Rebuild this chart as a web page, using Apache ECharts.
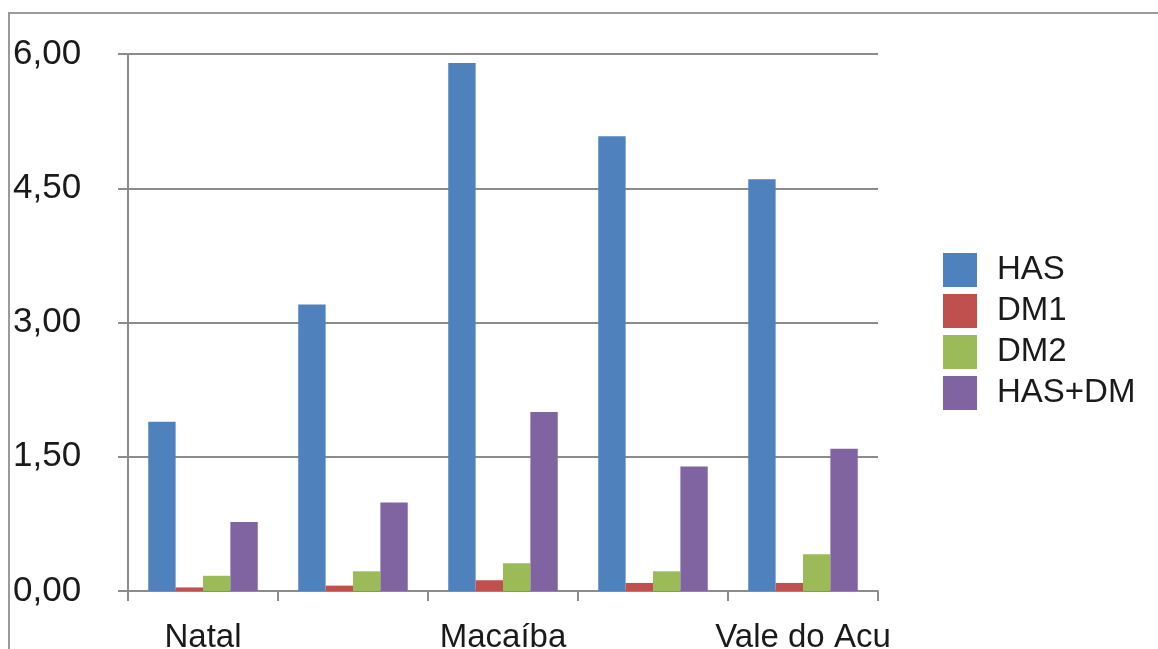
<!DOCTYPE html>
<html>
<head>
<meta charset="utf-8">
<script src="https://cdn.jsdelivr.net/npm/echarts@6/dist/echarts.min.js"></script>
<style>
html,body{margin:0;padding:0;background:#fff;}
#chart{width:1158px;height:649px;}
</style>
</head>
<body>
<div id="chart"></div>
<script>
const categories = ['Natal', 'Parnamirim', 'Macaíba', 'Mossoró', 'Vale do Acu'];
const seriesNames = ['HAS', 'DM1', 'DM2', 'HAS+DM'];
const hasValues = [1.89, 3.20, 5.90, 5.08, 4.60];
const dm1Values = [0.04, 0.06, 0.12, 0.09, 0.09];
const dm2Values = [0.17, 0.22, 0.31, 0.22, 0.41];
const hasDmValues = [0.77, 0.99, 2.00, 1.39, 1.59];
const yTicks = [0, 1.5, 3, 4.5, 6];
const colors = ['#4F81BD', '#C0504D', '#9BBB59', '#8064A2'];

const allValues = [hasValues, dm1Values, dm2Values, hasDmValues];
const lineColor = '#8c8c8c';
const font = '"Liberation Sans", Arial, sans-serif';

const chart = echarts.init(document.getElementById('chart'), null, {renderer: 'canvas'});
chart.setOption({
  animation: false,
  color: colors,
  grid: {left: 128, top: 54, right: 280, bottom: 58, containLabel: false, outerBoundsMode: 'none'},
  graphic: [{
    type: 'polyline',
    shape: {points: [[9, 649], [9, 13], [1158, 13]]},
    style: {stroke: '#9a9a9a', lineWidth: 2, fill: null},
    silent: true
  }],
  legend: {
    data: seriesNames,
    orient: 'vertical',
    left: 938,
    top: 248,
    icon: 'rect',
    itemWidth: 34,
    itemHeight: 34,
    itemGap: 7,
    textStyle: {fontSize: 33, fontFamily: font, color: '#1a1a1a', padding: [0, 0, 0, 15], lineHeight: 34}
  },
  xAxis: {
    type: 'category',
    data: categories,
    axisLine: {lineStyle: {color: lineColor, width: 2}},
    axisTick: {show: true, length: 10, alignWithLabel: false, interval: 0, lineStyle: {color: lineColor, width: 2}},
    axisLabel: {interval: 1, fontSize: 33, fontFamily: font, color: '#1a1a1a', margin: 30}
  },
  yAxis: {
    type: 'value',
    min: 0,
    max: 6,
    interval: 1.5,
    axisLine: {show: true, lineStyle: {color: lineColor, width: 2}},
    axisTick: {show: true, length: 10, lineStyle: {color: lineColor, width: 2}},
    splitLine: {show: true, lineStyle: {color: lineColor, width: 2}},
    axisLabel: {
      fontSize: 35, fontFamily: font, color: '#1a1a1a', align: 'left', margin: 115,
      formatter: v => yTicks.includes(v) ? v.toFixed(2).replace('.', ',') : ''
    }
  },
  series: seriesNames.map((name, i) => ({
    name: name,
    type: 'bar',
    data: allValues[i],
    barGap: '0%',
    barCategoryGap: '27%',
    itemStyle: {color: colors[i]}
  }))
});
</script>
</body>
</html>
